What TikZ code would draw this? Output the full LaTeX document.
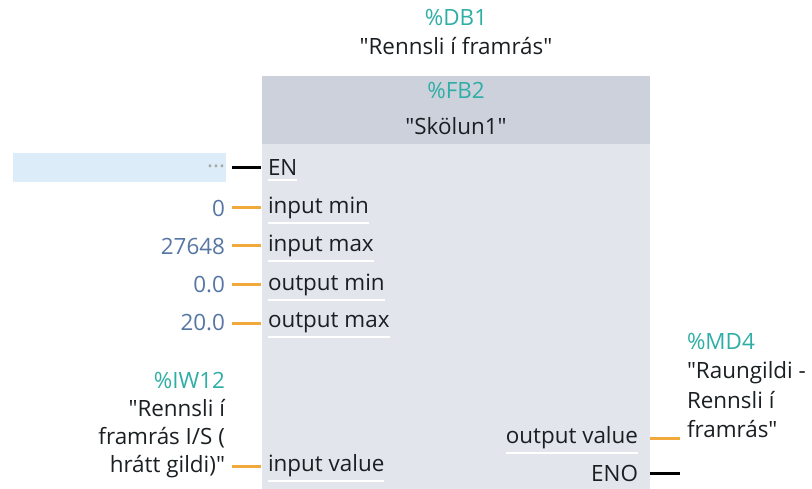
\documentclass[tikz,border=0pt]{standalone}
\usepackage{fontspec}
\setmainfont{Open Sans}
\newcommand{\qt}{\textquotedbl}
\definecolor{hdrfill}{HTML}{CDD1DC}
\definecolor{bodyfill}{HTML}{E3E5EC}
\definecolor{tagteal}{HTML}{2FAEA6}
\definecolor{valblue}{HTML}{5677A3}
\definecolor{wireorange}{HTML}{F2A93B}
\definecolor{enstrip}{HTML}{DCEDF9}
\definecolor{txt}{HTML}{1A1F22}
\begin{document}
\begin{tikzpicture}[x=1bp,y=-1bp,
  every node/.style={inner sep=0pt, outer sep=0pt, text=txt,
    font=\fontsize{22.5}{28}\selectfont},
  pinlabel/.style={anchor=west},
  outlabel/.style={anchor=east},
  valtext/.style={anchor=east, text=valblue},
  tagtext/.style={text=tagteal},
  boolwire/.style={draw=black, line width=3bp},
  datawire/.style={draw=wireorange, line width=3bp},
  sepline/.style={draw=white, line width=1.4bp}]
\useasboundingbox (0,0) rectangle (812,489);

% instance data block above the call
\node[tagtext] (db) at (456,17) {\%DB1};
\node (dbname) at (456,46) {\qt Rennsli í framrás\qt};

% function block body and header
\fill[bodyfill] (262,76) rectangle (650,489);
\fill[hdrfill] (262,76) rectangle (650,144);
\node[tagtext] (fb) at (456,90) {\%FB2};
\node (fbname) at (456,126) {\qt Skölun1\qt};

% enable input strip
\fill[enstrip] (13,153) rectangle (226,182);

% input pins
\node[pinlabel] (lEN)   at (268,168) {EN};
\node[pinlabel] (lImin) at (268,208) {input min};
\node[pinlabel] (lImax) at (268,246) {input max};
\node[pinlabel] (lOmin) at (268,285) {output min};
\node[pinlabel] (lOmax) at (268,323) {output max};
\node[pinlabel] (lIval) at (268,466) {input value};

\node[valtext, text=gray!70] (vEN) at (225,166) {...};
\node[valtext] (vImin) at (225,208) {0};
\node[valtext] (vImax) at (225,246) {27648};
\node[valtext] (vOmin) at (225,285) {0.0};
\node[valtext] (vOmax) at (225,323) {20.0};
\node[anchor=south east, align=right] (vIval) at (225,478)
  {\textcolor{tagteal}{\%IW12}\\\qt Rennsli í\\framrás I/S (\\hrátt gildi)\qt};

\foreach \n in {EN,Imin,Imax,Omin,Omax,Ival}
  \draw[sepline] ([yshift=-4]l\n.south west) -- ([yshift=-4]l\n.south east);

\draw[boolwire] ([xshift=7]vEN.east |- lEN.west) -- ([xshift=-7]lEN.west);
\foreach \n in {Imin,Imax,Omin,Omax}
  \draw[datawire] ([xshift=7]v\n.east) -- ([xshift=-7]l\n.west);
\draw[datawire] ([xshift=7]vIval.south east |- lIval.west) -- ([xshift=-7]lIval.west);

% output pins
\node[outlabel] (lOval) at (638,438) {output value};
\node[outlabel] (lENO)  at (638,473) {ENO};
\draw[sepline] ([yshift=-4]lOval.south west) -- ([yshift=-4]lOval.south east);

\node[anchor=north west, align=left, font=\fontsize{22.5}{29.5}\selectfont] (vOval) at (687,333)
  {\textcolor{tagteal}{\%MD4}\\\qt Raungildi -\\Rennsli í\\framrás\qt};
\coordinate (eOval) at (680,438);
\coordinate (eENO) at (680,473);
\draw[datawire] ([xshift=12]lOval.east) -- (eOval);
\draw[boolwire] ([xshift=12]lENO.east) -- (eENO);
\end{tikzpicture}
\end{document}
